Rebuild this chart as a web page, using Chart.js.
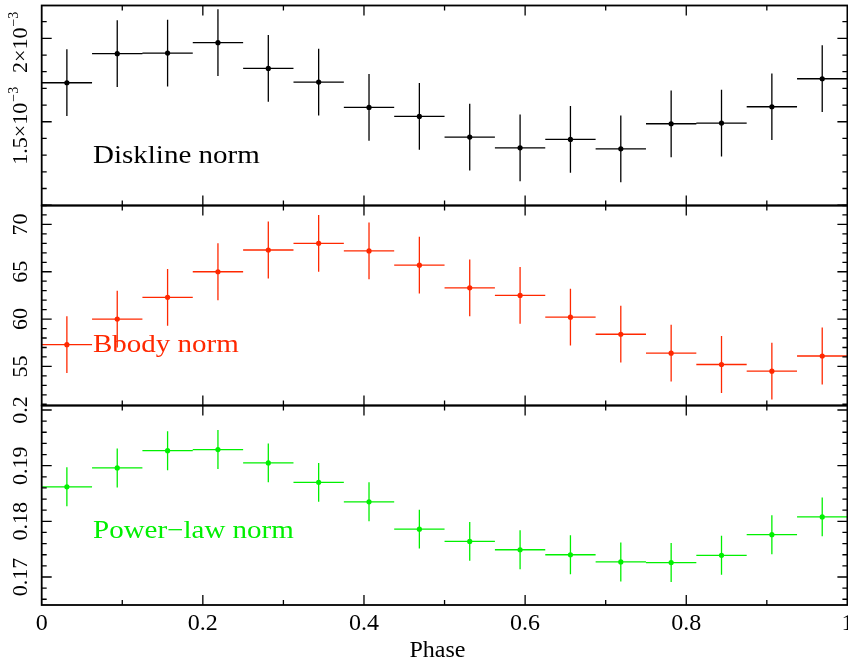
<!DOCTYPE html>
<html>
<head>
<meta charset="utf-8">
<script src="https://cdn.jsdelivr.net/npm/chart.js@4/dist/chart.umd.min.js"></script>
<style>
  html, body { margin: 0; padding: 0; background: #fff; width: 848px; height: 664px; overflow: hidden; }
  .layer { position: absolute; left: 0; top: 0; width: 850px; height: 664px; }
  canvas { position: absolute; left: 0; top: 0; }
</style>
</head>
<body>
<div class="layer"><canvas id="disk" width="850" height="664"></canvas></div>
<div class="layer"><canvas id="bbody" width="850" height="664"></canvas></div>
<div class="layer"><canvas id="plaw" width="850" height="664"></canvas></div>
<script>
// Phase bins (centres) and half bin width
const phase = [0.03125, 0.09375, 0.15625, 0.21875, 0.28125, 0.34375, 0.40625, 0.46875,
               0.53125, 0.59375, 0.65625, 0.71875, 0.78125, 0.84375, 0.90625, 0.96875];
const binHalfWidth = 0.03125;

// Diskline normalisation per phase bin
const disklineNorm = [1.734e-3, 1.908e-3, 1.912e-3, 1.974e-3, 1.820e-3, 1.738e-3, 1.586e-3, 1.532e-3,
                      1.408e-3, 1.344e-3, 1.394e-3, 1.338e-3, 1.488e-3, 1.492e-3, 1.590e-3, 1.758e-3];
const disklineErr  = [2.0e-4, 2.0e-4, 2.0e-4, 2.0e-4, 2.0e-4, 2.0e-4, 2.0e-4, 2.0e-4,
                      2.0e-4, 2.0e-4, 2.0e-4, 2.0e-4, 2.0e-4, 2.0e-4, 2.0e-4, 2.0e-4];

// Blackbody normalisation per phase bin
const bbodyNorm = [57.3, 60.0, 62.3, 65.0, 67.3, 68.0, 67.2, 65.7,
                   63.3, 62.5, 60.2, 58.4, 56.4, 55.2, 54.5, 56.1];
const bbodyErr  = [3.0, 3.0, 3.0, 3.0, 3.0, 3.0, 3.0, 3.0,
                   3.0, 3.0, 3.0, 3.0, 3.0, 3.0, 3.0, 3.0];

// Power-law normalisation per phase bin
const powerlawNorm = [0.1862, 0.1896, 0.1927, 0.1929, 0.1905, 0.1870, 0.1835, 0.1786,
                      0.1764, 0.1749, 0.1740, 0.1727, 0.1726, 0.1739, 0.1776, 0.1808];
const powerlawErr  = [0.0035, 0.0035, 0.0035, 0.0035, 0.0035, 0.0035, 0.0035, 0.0035,
                      0.0035, 0.0035, 0.0035, 0.0035, 0.0035, 0.0035, 0.0035, 0.0035];

// Tick labels
const phaseTickValues = [0, 0.2, 0.4, 0.6, 0.8, 1];
const phaseTickLabels = ['0', '0.2', '0.4', '0.6', '0.8', '1'];
const disklineTickValues = [1.5e-3, 2.0e-3];
const disklineTickLabels = ['1.5×10', '2×10'];
const disklineTickExponent = '−3';
const bbodyTickValues = [55, 60, 65, 70];
const bbodyTickLabels = ['55', '60', '65', '70'];
const powerlawTickValues = [0.17, 0.18, 0.19, 0.2];
const powerlawTickLabels = ['0.17', '0.18', '0.19', '0.2'];

const SERIF = '"Liberation Serif", "Times New Roman", Times, serif';
const PAGE_H = 664;

function makePanel(id, cfg) {
  const decor = {
    id: 'panelDecor',
    beforeDatasetsDraw(chart) {
      const ctx = chart.ctx, xs = chart.scales.x, ys = chart.scales.y, a = chart.chartArea;
      ctx.save();
      ctx.beginPath();
      ctx.rect(a.left, a.top, a.right - a.left, a.bottom - a.top);
      ctx.clip();
      ctx.strokeStyle = cfg.color;
      ctx.lineWidth = 1.3;
      ctx.beginPath();
      phase.forEach((p, i) => {
        const v = cfg.values[i], e = cfg.errors[i];
        const px = xs.getPixelForValue(p), py = ys.getPixelForValue(v);
        ctx.moveTo(xs.getPixelForValue(p - binHalfWidth), py);
        ctx.lineTo(xs.getPixelForValue(p + binHalfWidth), py);
        ctx.moveTo(px, ys.getPixelForValue(v - e));
        ctx.lineTo(px, ys.getPixelForValue(v + e));
      });
      ctx.stroke();
      ctx.restore();
    },
    afterDraw(chart) {
      const ctx = chart.ctx, xs = chart.scales.x, ys = chart.scales.y, a = chart.chartArea;
      ctx.save();
      // inward tick marks
      ctx.strokeStyle = '#000';
      ctx.lineWidth = 1.3;
      ctx.beginPath();
      for (let k = 1; k < 10; k++) {
        const px = xs.getPixelForValue(k / 10);
        const len = k % 2 === 0 ? 10 : 5;
        ctx.moveTo(px, a.top); ctx.lineTo(px, a.top + len);
        ctx.moveTo(px, a.bottom); ctx.lineTo(px, a.bottom - len);
      }
      const n0 = Math.ceil(cfg.yMin / cfg.minor - 1e-6);
      const n1 = Math.floor(cfg.yMax / cfg.minor + 1e-6);
      for (let n = n0; n <= n1; n++) {
        const py = ys.getPixelForValue(n * cfg.minor);
        const len = n % cfg.ratio === 0 ? 10 : 5;
        ctx.moveTo(a.left, py); ctx.lineTo(a.left + len, py);
        ctx.moveTo(a.right, py); ctx.lineTo(a.right - len, py);
      }
      ctx.stroke();
      // frame
      ctx.lineWidth = 1.8;
      ctx.strokeRect(a.left, a.top, a.right - a.left, a.bottom - a.top);

      // rotated y tick labels
      ctx.fillStyle = '#000';
      cfg.tickValues.forEach((v, i) => {
        const py = ys.getPixelForValue(v) + (cfg.labelShift || 0);
        ctx.save();
        ctx.translate(27, py);
        ctx.rotate(-Math.PI / 2);
        ctx.textBaseline = 'alphabetic';
        ctx.textAlign = 'left';
        ctx.font = '22px ' + SERIF;
        const base = cfg.tickLabels[i];
        const wBase = ctx.measureText(base).width;
        let wSup = 0;
        if (cfg.exponent) {
          ctx.font = '14px ' + SERIF;
          wSup = ctx.measureText(cfg.exponent).width;
        }
        const start = -(wBase + wSup) / 2;
        ctx.font = '22px ' + SERIF;
        ctx.fillText(base, start, 0);
        if (cfg.exponent) {
          ctx.font = '14px ' + SERIF;
          ctx.fillText(cfg.exponent, start + wBase + 1, -9);
        }
        ctx.restore();
      });

      // x tick labels and axis title on the bottom panel
      if (cfg.showX) {
        ctx.font = '24px ' + SERIF;
        ctx.textAlign = 'center';
        ctx.textBaseline = 'alphabetic';
        phaseTickValues.forEach((v, i) => {
          ctx.fillText(phaseTickLabels[i], xs.getPixelForValue(v), 630);
        });
        ctx.fillText('Phase', 437.5, 656.5);
      }

      // panel name
      ctx.save();
      ctx.translate(93, cfg.nameBaseline);
      ctx.scale(1.16, 1);
      ctx.font = '25px ' + SERIF;
      ctx.fillStyle = cfg.color;
      ctx.textAlign = 'left';
      ctx.textBaseline = 'alphabetic';
      ctx.fillText(cfg.name, 0, 0);
      ctx.restore();

      ctx.restore();
    }
  };

  return new Chart(document.getElementById(id), {
    type: 'scatter',
    data: {
      datasets: [{
        data: phase.map((x, i) => ({ x: x, y: cfg.values[i] })),
        pointRadius: 2.6,
        pointHoverRadius: 2.6,
        pointBackgroundColor: cfg.color,
        pointBorderWidth: 0,
        showLine: false
      }]
    },
    options: {
      responsive: false,
      animation: false,
      devicePixelRatio: 1,
      events: [],
      layout: { padding: { left: 41.7, right: 1.7, top: cfg.top, bottom: PAGE_H - cfg.bottom } },
      plugins: { legend: { display: false }, tooltip: { enabled: false } },
      scales: {
        x: { type: 'linear', min: 0, max: 1, display: false },
        y: { type: 'linear', min: cfg.yMin, max: cfg.yMax, display: false }
      }
    },
    plugins: [decor]
  });
}

makePanel('disk', {
  values: disklineNorm, errors: disklineErr, color: '#000000',
  yMin: 0.998e-3, yMax: 2.197e-3, minor: 1e-4, ratio: 5,
  tickValues: disklineTickValues, tickLabels: disklineTickLabels, exponent: disklineTickExponent,
  labelShift: 4.5,
  top: 5.5, bottom: 205.5, name: 'Diskline norm', nameBaseline: 163.3, showX: false
});

makePanel('bbody', {
  values: bbodyNorm, errors: bbodyErr, color: '#ff2800',
  yMin: 50.87, yMax: 72, minor: 1, ratio: 5,
  tickValues: bbodyTickValues, tickLabels: bbodyTickLabels,
  top: 205.5, bottom: 405.5, name: 'Bbody norm', nameBaseline: 351.7, showX: false
});

makePanel('plaw', {
  values: powerlawNorm, errors: powerlawErr, color: '#00f000',
  yMin: 0.16497, yMax: 0.20081, minor: 0.002, ratio: 5,
  tickValues: powerlawTickValues, tickLabels: powerlawTickLabels,
  top: 405.5, bottom: 605, name: 'Power−law norm', nameBaseline: 538.3, showX: true
});
</script>
</body>
</html>
